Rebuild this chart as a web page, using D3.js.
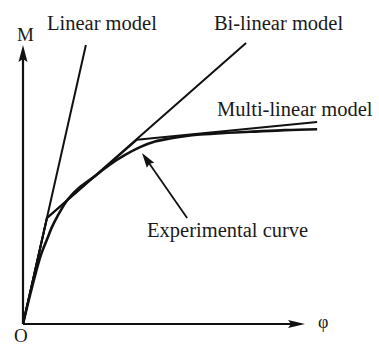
<!DOCTYPE html>
<html>
<head>
<meta charset="utf-8">
<script src="https://cdn.jsdelivr.net/npm/d3@7"></script>
<style>
  html, body { margin: 0; padding: 0; background: #fff; }
  svg { display: block; }
  text { font-family: "Liberation Serif", "Times New Roman", serif; fill: #1a1a1a; }
</style>
</head>
<body>
<svg id="chart" width="379" height="345"></svg>
<script>
// Moment–curvature models (φ, M) in relative units
const linearModel = [[0, 0], [22.3, 100]];
const bilinearModel = [[0, 0], [8.5, 38], [79.1, 100.7]];
const multilinearModel = [[0, 0], [8.5, 38], [40.4, 66], [104.3, 72.4]];
const experimentalCurve = [
  [0, 0], [2.1, 8.8], [4.6, 18.6], [6.4, 24.9], [8.5, 30.3], [10.3, 34.8],
  [12.1, 38.4], [16.0, 44.8], [20.2, 49.1], [25.5, 53.0], [30.9, 57.2],
  [36.2, 60.6], [41.5, 63.4], [46.8, 65.4], [52.1, 66.5], [56.7, 67.2],
  [62.8, 67.9], [71.6, 68.5], [80.5, 68.9], [92.9, 69.5], [104.3, 69.8]
];
// Label texts and where they sit in data units
const labels = [
  { text: "Linear model",       at: [8.5, 105.4] },
  { text: "Bi-linear model",    at: [67.7, 105.4] },
  { text: "Multi-linear model", at: [68.8, 74.6] },
  { text: "Experimental curve", at: [44.0, 31.2] }
];
const arrowFrom = [58.2, 38.0];   // pointer to the experimental curve
const arrowTo = [42.2, 61.3];
const axisLabels = { y: "M", x: "φ", origin: "O" };

const svg = d3.select("#chart");
const x = d3.scaleLinear().domain([0, 100]).range([23, 305]);
const y = d3.scaleLinear().domain([0, 100]).range([324, 45]);

const line = d3.line().x(d => x(d[0])).y(d => y(d[1]));
const smooth = d3.line().x(d => x(d[0])).y(d => y(d[1])).curve(d3.curveCatmullRom.alpha(0.5));

// Axes
svg.append("line").attr("x1", x(0)).attr("y1", y(0)).attr("x2", x(0)).attr("y2", y(100) + 12)
  .attr("stroke", "#111").attr("stroke-width", 2.2);
svg.append("line").attr("x1", x(0)).attr("y1", y(0)).attr("x2", x(100) - 12).attr("y2", y(0))
  .attr("stroke", "#111").attr("stroke-width", 2.2);

// arrowhead pointing along (dx, dy) ending at (tx, ty)
function arrowHead(tx, ty, dx, dy, len, half, notch) {
  const L = Math.hypot(dx, dy), ux = dx / L, uy = dy / L, px = -uy, py = ux;
  const bx = tx - ux * len, by = ty - uy * len;
  const nx = tx - ux * (len - notch), ny = ty - uy * (len - notch);
  return `M${tx},${ty}L${bx + px * half},${by + py * half}L${nx},${ny}L${bx - px * half},${by - py * half}Z`;
}
svg.append("path").attr("d", arrowHead(x(0), y(100), 0, -1, 17, 4.5, 3)).attr("fill", "#111");
svg.append("path").attr("d", arrowHead(x(100), y(0), 1, 0, 17, 4, 3)).attr("fill", "#111");

// Model lines
const lineStyle = sel => sel.attr("fill", "none").attr("stroke", "#111").attr("stroke-linejoin", "round");
svg.append("path").datum(linearModel).attr("d", line).call(lineStyle).attr("stroke-width", 2);
svg.append("path").datum(bilinearModel).attr("d", line).call(lineStyle).attr("stroke-width", 2);
svg.append("path").datum(multilinearModel).attr("d", line).call(lineStyle).attr("stroke-width", 2);
svg.append("path").datum(experimentalCurve).attr("d", smooth).call(lineStyle).attr("stroke-width", 2.6);

// Pointer arrow
const ax1 = x(arrowFrom[0]), ay1 = y(arrowFrom[1]), ax2 = x(arrowTo[0]), ay2 = y(arrowTo[1]);
svg.append("line").attr("x1", ax1).attr("y1", ay1).attr("x2", ax2 + (ax1 - ax2) * 0.15).attr("y2", ay2 + (ay1 - ay2) * 0.15)
  .attr("stroke", "#111").attr("stroke-width", 1.8);
svg.append("path").attr("d", arrowHead(ax2, ay2, ax2 - ax1, ay2 - ay1, 15, 4.5, 2)).attr("fill", "#111");

// Labels
svg.selectAll("text.model").data(labels).join("text").attr("class", "model")
  .attr("x", d => x(d.at[0])).attr("y", d => y(d.at[1]))
  .attr("font-size", 20.5).text(d => d.text);

svg.append("text").attr("x", x(0) - 6).attr("y", y(100) - 4).attr("font-size", 19).text(axisLabels.y);
svg.append("text").attr("x", x(100) + 13).attr("y", y(0) + 4).attr("font-size", 18).text(axisLabels.x);
svg.append("text").attr("x", x(0) - 9).attr("y", y(0) + 18).attr("font-size", 19).text(axisLabels.origin);
</script>
</body>
</html>
